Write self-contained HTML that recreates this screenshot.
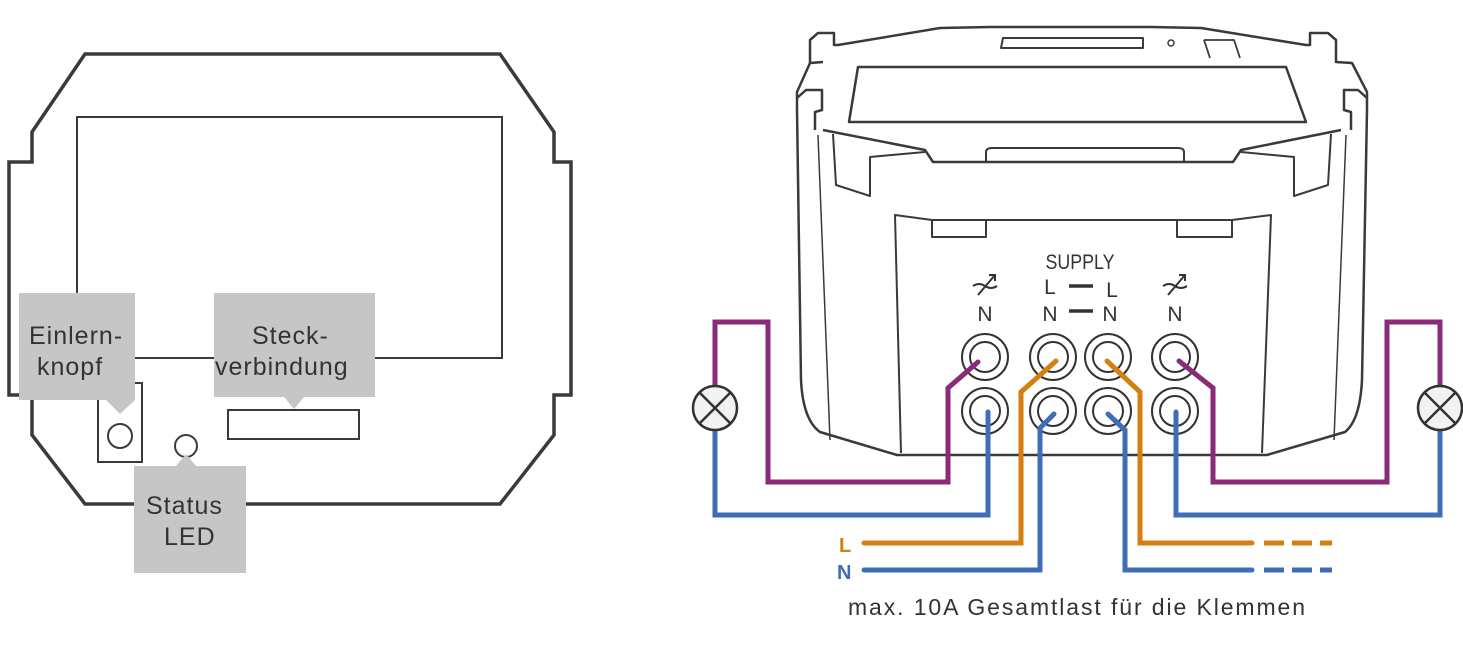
<!DOCTYPE html>
<html><head><meta charset="utf-8"><style>
html,body{margin:0;padding:0;background:#fff;}
svg{display:block;}
text{font-family:"Liberation Sans",sans-serif;}
</style></head><body>
<svg width="1463" height="653" viewBox="0 0 1463 653" xmlns="http://www.w3.org/2000/svg">
<g fill="none" stroke="#3a3a3a">
<path d="M85,54 L500,54 L554,132 L554,162 L571,162 L571,395 L554,395 L554,435 L500,504 L85,504 L32,435 L32,395 L9,395 L9,162 L32,162 L32,132 Z" stroke-width="3.5" stroke-linejoin="miter"/>
<rect x="77" y="117" width="425" height="241" stroke-width="2"/>
<rect x="98" y="383" width="44" height="79" stroke-width="2"/>
<circle cx="120" cy="436" r="12" stroke-width="2"/>
<circle cx="186" cy="446" r="11" stroke-width="2"/>
<rect x="228" y="410" width="131" height="29" stroke-width="2"/>
</g>
<g fill="#c6c6c6">
<path d="M19,293 H135 V400 L120,414 L106,400 H19 Z"/>
<path d="M214,293 H375 V397 H304 L294,409 L284,397 H214 Z"/>
<path d="M134,466 H176 L186,454 L196,466 H246 V573 H134 Z"/>
</g>
<g fill="#333" font-size="25" letter-spacing="1">
<text x="29" y="344">Einlern-</text>
<text x="37" y="375">knopf</text>
<text x="252" y="344">Steck-</text>
<text x="215" y="375">verbindung</text>
<text x="146" y="514">Status</text>
<text x="164" y="545">LED</text>
</g>

<g fill="none" stroke="#3a3a3a" stroke-width="2.5" stroke-linejoin="round">
<path d="M810,63 L810,40 L818,33 L834,33 L834,45 L838,45 L940,28 L990,27 L1151,27 L1201,28 L1306,45 L1310,45 L1310,33 L1328,33 L1336,40 L1336,63"/>
<path d="M823,62 L810,63 L797,92 L797,110 L801,380 Q803,420 820,432 L897,455 L1267,455 L1345,432 Q1360,420 1362,380 L1367,110 L1367,92 L1352,63 L1336,62"/>
<path d="M797,98 L806,90 L822,90 L822,110 L815,112 L815,130"/>
<path d="M1367,98 L1358,90 L1344,90 L1344,110 L1351,112 L1351,130"/>
<path d="M858,67 L1286,67 L1306,122 L849,122 Z"/>
<path d="M823,130 L925,150 L933,162 L1233,162 L1241,150 L1341,130"/>
<path d="M986,162 L986,152 Q986,148 992,148 L1178,148 Q1184,148 1184,152 L1184,162" stroke-width="2"/>
<path d="M833,134 L836,185 L870,196 L870,157 L925,152" stroke-width="2"/>
<path d="M1331,134 L1328,185 L1294,196 L1294,157 L1241,152" stroke-width="2"/>
<path d="M818,135 L830,440" stroke-width="1.5"/>
<path d="M1346,135 L1334,440" stroke-width="1.5"/>
<path d="M901,453 L895,215 L932,220 L1232,220 L1271,215 L1262,453" stroke-width="2"/>
<path d="M932,220 L932,237 L986,237 L986,220 M1177,220 L1177,237 L1232,237 L1232,220" stroke-width="2"/>
<path d="M1001,48 L1003,38 L1143,38 L1143,48 Z" stroke-width="2"/>
<circle cx="1171" cy="43" r="3" stroke-width="1.5"/>
<path d="M1204,40 L1234,40 L1240,58 M1204,40 L1210,58" stroke-width="1.8"/>
</g>

<g fill="#333" font-size="21">
<text x="1080" y="269" text-anchor="middle" transform="translate(1080,0) scale(0.85,1) translate(-1080,0)">SUPPLY</text>
<text x="1050" y="294" text-anchor="middle">L</text>
<text x="1112" y="297" text-anchor="middle">L</text>
<text x="985" y="321" text-anchor="middle">N</text>
<text x="1050" y="321" text-anchor="middle">N</text>
<text x="1110" y="321" text-anchor="middle">N</text>
<text x="1175" y="321" text-anchor="middle">N</text>
</g>
<g stroke="#333" stroke-width="3.5"><line x1="1069" y1="286" x2="1093" y2="286"/><line x1="1069" y1="311" x2="1093" y2="311"/></g>
<g fill="none" stroke="#333" stroke-width="2">
<path d="M973,286 Q979,282 985,286 Q991,290 997,286"/><path d="M978,295 L995,275 M989,275 L995,275 L995,281"/>
<path d="M1163,286 Q1169,282 1175,286 Q1181,290 1187,286"/><path d="M1168,295 L1185,275 M1179,275 L1185,275 L1185,281"/>
</g>

<g fill="#fff" stroke="#333" stroke-width="2">
<circle cx="985" cy="357" r="23"/><circle cx="985" cy="357" r="15"/>
<circle cx="1053" cy="357" r="23"/><circle cx="1053" cy="357" r="15"/>
<circle cx="1108" cy="357" r="23"/><circle cx="1108" cy="357" r="15"/>
<circle cx="1175" cy="357" r="23"/><circle cx="1175" cy="357" r="15"/>
<circle cx="985" cy="411" r="23"/><circle cx="985" cy="411" r="15"/>
<circle cx="1053" cy="411" r="23"/><circle cx="1053" cy="411" r="15"/>
<circle cx="1108" cy="411" r="23"/><circle cx="1108" cy="411" r="15"/>
<circle cx="1175" cy="411" r="23"/><circle cx="1175" cy="411" r="15"/>
</g>

<g fill="none" stroke-width="5" stroke-linecap="round" stroke-linejoin="miter">
<path stroke="#8b2a7a" d="M978,362 L948,388 L948,482 L768,482 L768,322 L715,322 L715,386"/>
<path stroke="#3f6db8" d="M715,430 L715,515 L988,515 L988,412"/>
<path stroke="#d47f0f" d="M1056,361 L1021,392 L1021,543 L864,543"/>
<path stroke="#3f6db8" d="M1054,414 L1040,428 L1040,570 L864,570"/>
<path stroke="#d47f0f" d="M1107,361 L1140,392 L1140,543 L1252,543"/>
<path stroke="#3f6db8" d="M1108,414 L1125,430 L1125,570 L1252,570"/>
<path stroke="#8b2a7a" d="M1179,361 L1213,388 L1213,482 L1387,482 L1387,322 L1440,322 L1440,386"/>
<path stroke="#3f6db8" d="M1440,430 L1440,515 L1176,515 L1176,412"/>
</g>
<g fill="none" stroke-width="5">
<path stroke="#d47f0f" d="M1264,543 H1332" stroke-dasharray="20 8"/>
<path stroke="#3f6db8" d="M1264,570 H1332" stroke-dasharray="20 8"/>
</g>

<g stroke="#333" stroke-width="2.5" fill="#f2f2f2">
<circle cx="715" cy="408" r="22"/>
<circle cx="1440" cy="408" r="22"/>
<path d="M700,393 L730,423 M730,393 L700,423 M1425,393 L1455,423 M1455,393 L1425,423" fill="none"/>
</g>

<text x="839" y="552" fill="#d47f0f" font-size="20" font-weight="bold">L</text>
<text x="837" y="579" fill="#3f6db8" font-size="20" font-weight="bold">N</text>
<text x="848" y="615" fill="#333" font-size="23" letter-spacing="1.9">max. 10A Gesamtlast für die Klemmen</text>
</svg>
</body></html>
